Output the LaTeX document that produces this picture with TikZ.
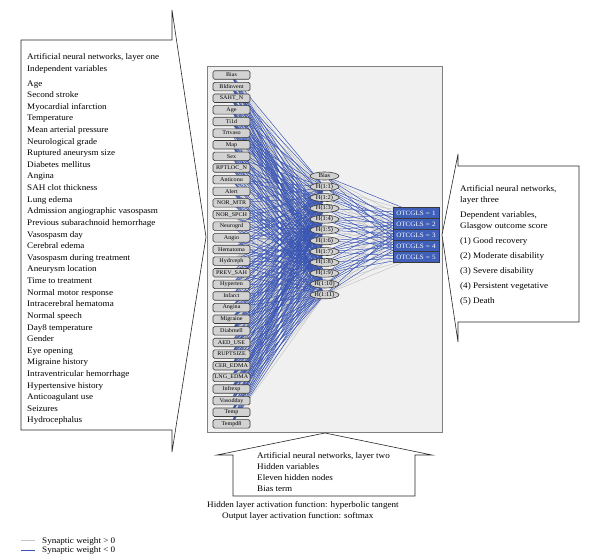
\documentclass[tikz,border=0pt]{standalone}
\usepackage{fontspec}
\setmainfont[FakeStretch=1.07]{Liberation Serif}
\usetikzlibrary{shapes.geometric}
\pgfdeclarelayer{bg}
\pgfdeclarelayer{posl}
\pgfdeclarelayer{negl}
\pgfsetlayers{bg,posl,negl,main}
\definecolor{panelfill}{HTML}{F0F0F0}
\definecolor{panelline}{HTML}{808080}
\definecolor{negblue}{HTML}{3A56B4}
\definecolor{posgray}{HTML}{C4C4C4}
\definecolor{outblue}{HTML}{3F5FB8}
\definecolor{nodefill}{HTML}{D2D2D2}
\definecolor{nodeline}{HTML}{3A3A3A}
\begin{document}
\begin{tikzpicture}[x=1pt,y=-1pt,
  txt/.style={anchor=base west,inner sep=0pt,font=\fontsize{8.5}{10}\selectfont},
  innode/.style={draw=nodeline,fill=nodefill,rounded corners=1.5pt,line width=0.6pt,
    minimum width=37pt,minimum height=8.5pt,inner sep=0pt,font=\fontsize{5.7}{7}\selectfont},
  hidnode/.style={ellipse,draw=nodeline,fill=nodefill,line width=0.6pt,
    minimum width=29pt,minimum height=8pt,inner sep=0pt,font=\fontsize{6}{7}\selectfont},
  outnode/.style={draw=nodeline,fill=outblue,text=white,line width=0.6pt,
    minimum width=46pt,minimum height=11pt,inner sep=0pt,font=\fontsize{6.6}{8}\selectfont},
  posw/.style={draw=posgray,line width=0.5pt},
  negw/.style={draw=negblue,line width=0.5pt},
  callout/.style={draw=black!85,line width=0.6pt,fill=white,line join=miter}]
\useasboundingbox (0,0) rectangle (600,554);

% panel
\begin{pgfonlayer}{bg}
\draw[panelline,fill=panelfill,line width=0.8pt] (207,66) rectangle (442,432);
\end{pgfonlayer}

% input layer
\foreach \n [count=\i] in {Bias,Bldinvent,SAHT\_N,Age,Ti1d,Trtvaso,Map,Sex,RPTLOC\_N,Anticonu,Alert,NOR\_MTR,NOR\_SPCH,Neurogrd,Angio,Hematoma,Hydrceph,PREV\_SAH,Hyperten,Infarct,Angina,Migraine,Diabmell,AED\_USE,RUPTSIZE,CER\_EDMA,LNG\_EDMA,Infrexp,Vasodday,Temp,Tempd8}
  \node[innode] (in\i) at (231.5,{75+(\i-1)*11.63}) {\n};

% hidden layer
\node[hidnode] (h0) at (324.5,176) {Bias};
\foreach \j in {1,...,11}
  \node[hidnode] (h\j) at (324.5,{176+\j*10.8}) {H(1:\j)};

% output layer
\foreach \k in {1,...,5}
  \node[outnode] (o\k) at (416,{213+(\k-1)*11}) {OTCGLS\,\,=\,\,\k};

% input -> hidden synapses
\foreach \i in {1,...,31}{
  \foreach \j in {1,...,11}{
    \pgfmathtruncatemacro\s{mod(\i*131+\j*197+\i*\j*17,97)}
    \ifnum\s<58
      \begin{pgfonlayer}{negl}\draw[negw] (in\i.center) -- (h\j.center);\end{pgfonlayer}
    \else
      \begin{pgfonlayer}{posl}\draw[posw] (in\i.center) -- (h\j.center);\end{pgfonlayer}
    \fi
  }
}
% hidden -> output synapses
\foreach \j in {0,...,11}{
  \foreach \k in {1,...,5}{
    \pgfmathtruncatemacro\s{mod(\j*53+\k*89+\j*\k*23,61)}
    \ifnum\s<36
      \begin{pgfonlayer}{negl}\draw[negw] (h\j.center) -- (o\k.center);\end{pgfonlayer}
    \else
      \begin{pgfonlayer}{posl}\draw[posw] (h\j.center) -- (o\k.center);\end{pgfonlayer}
    \fi
  }
}

% left callout
\draw[callout] (21,40) -- (172,40) -- (172,10) -- (206,237) -- (172,452) -- (172,430) -- (21,430) -- cycle;
\node[txt] (lh1) at (27,59) {Artificial neural networks, layer one};
\node[txt] (lh2) at (27,71) {Independent variables};
\foreach \t [count=\k] in {Age,Second stroke,Myocardial infarction,Temperature,Mean arterial pressure,Neurological grade,Ruptured aneurysm size,Diabetes mellitus,Angina,SAH clot thickness,Lung edema,Admission angiographic vasospasm,Previous subarachnoid hemorrhage,Vasospasm day,Cerebral edema,Vasospasm during treatment,Aneurysm location,Time to treatment,Normal motor response,Intracerebral hematoma,Normal speech,Day8 temperature,Gender,Eye opening,Migraine history,Intraventricular hemorrhage,Hypertensive history,Anticoagulant use,Seizures,Hydrocephalus}
  \node[txt] (lv\k) at (27,{86+(\k-1)*11.62}) {\t};

% right callout
\draw[callout] (458,166) -- (579,166) -- (579,322) -- (458,322) -- (458,342) -- (442,235) -- (458,154) -- cycle;
\node[txt] (r1) at (460,191) {Artificial neural networks,};
\node[txt] (r2) at (460,202) {layer three};
\node[txt] (r3) at (460,217) {Dependent variables,};
\node[txt] (r4) at (460,228) {Glasgow outcome score};
\node[txt] (r5) at (460,243) {(1) Good recovery};
\node[txt] (r6) at (460,258) {(2) Moderate disability};
\node[txt] (r7) at (460,273) {(3) Severe disability};
\node[txt] (r8) at (460,288) {(4) Persistent vegetative};
\node[txt] (r9) at (460,303) {(5) Death};

% bottom callout
\draw[callout] (325,433) -- (432,455) -- (415,455) -- (415,496) -- (233,496) -- (233,455) -- (217,455) -- cycle;
\node[txt] (b1) at (257,458) {Artificial neural networks, layer two};
\node[txt] (b2) at (257,469) {Hidden variables};
\node[txt] (b3) at (257,480) {Eleven hidden nodes};
\node[txt] (b4) at (257,491) {Bias term};
\node[txt] (a1) at (207,507) {Hidden layer activation function: hyperbolic tangent};
\node[txt] (a2) at (222,518) {Output layer activation function: softmax};

% legend
\coordinate (lg1a) at (21,540); \coordinate (lg1b) at (35,540);
\coordinate (lg2a) at (21,550); \coordinate (lg2b) at (35,550);
\draw[posw,line width=0.8pt] (lg1a) -- (lg1b);
\draw[negw,line width=0.8pt] (lg2a) -- (lg2b);
\node[txt] (lt1) at (42,543) {Synaptic weight > 0};
\node[txt] (lt2) at (42,552.5) {Synaptic weight < 0};
\end{tikzpicture}
\end{document}
